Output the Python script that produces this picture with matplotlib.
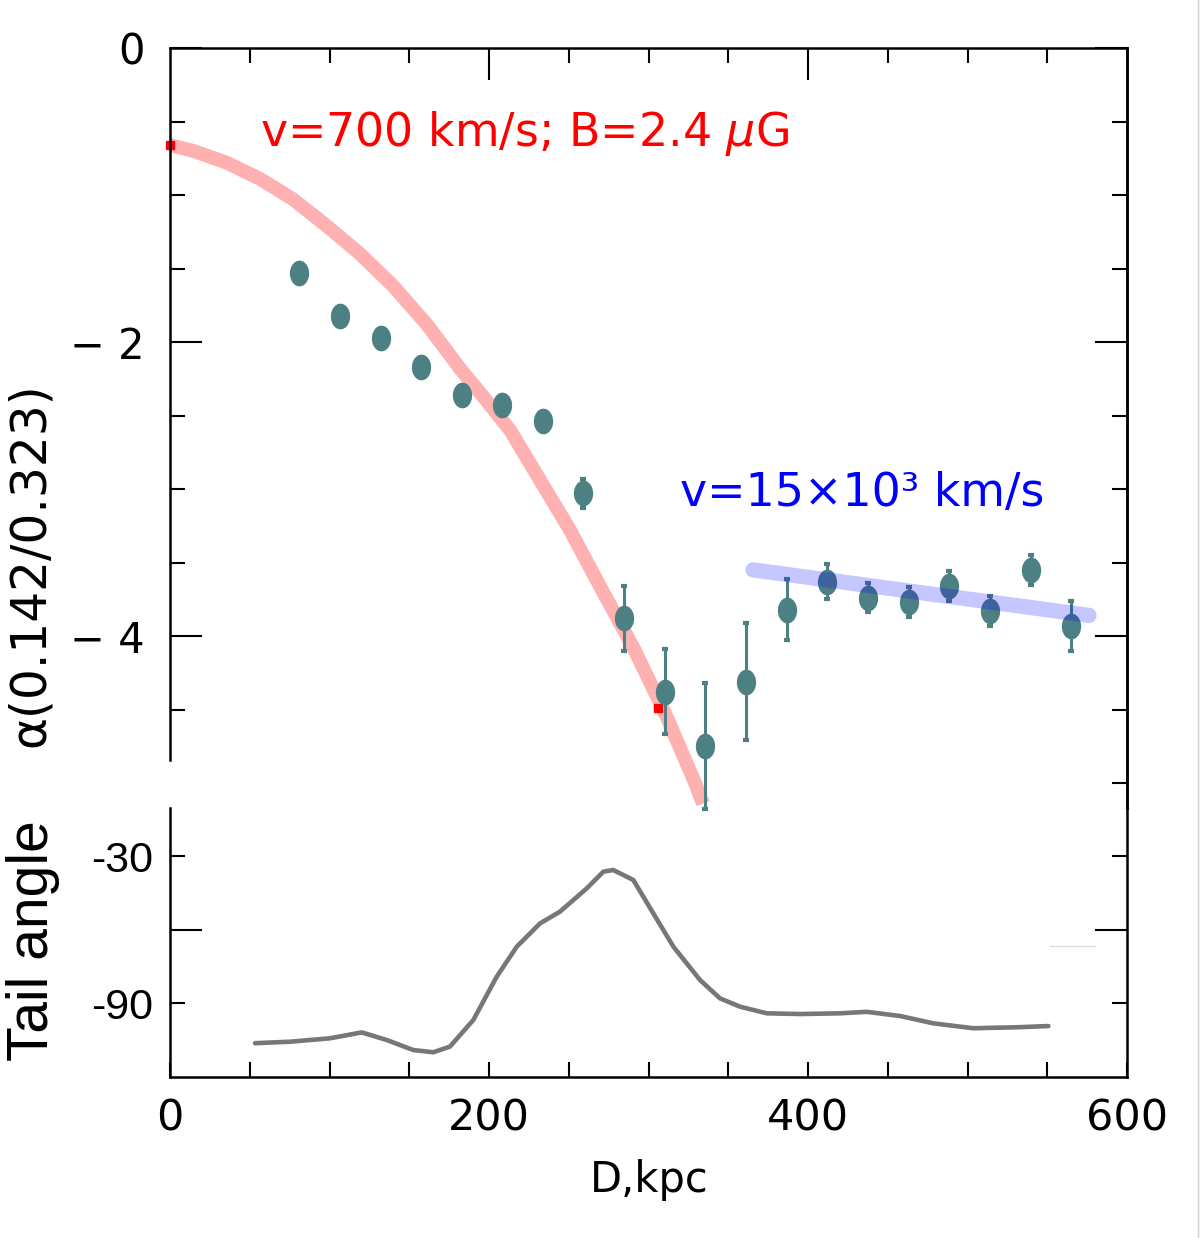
import numpy as np
import matplotlib
matplotlib.use('Agg')
import matplotlib.pyplot as plt
from matplotlib.path import Path

# spectral index alpha(0.142/0.323) along the tail
dist_kpc  = [80.9, 106.6, 132.3, 157.4, 183.1, 208.2, 234.0, 259.1, 284.8, 310.3,
             335.6, 361.3, 386.6, 412.1, 437.4, 463.1, 488.6, 514.1, 539.6, 564.7]
alpha_val = [-1.53, -1.82, -1.97, -2.17, -2.36, -2.43, -2.54, -3.03, -3.88, -4.38,
             -4.75, -4.31, -3.82, -3.63, -3.74, -3.77, -3.66, -3.83, -3.55, -3.93]
alpha_err = [0.0, 0.0, 0.0, 0.0, 0.0, 0.0, 0.0, 0.10, 0.22, 0.29,
             0.43, 0.40, 0.21, 0.12, 0.10, 0.10, 0.10, 0.10, 0.10, 0.17]

# ageing model, v=700 km/s, B=2.4 uG
model_x = [0.0, 14.6, 35.5, 56.4, 77.3, 98.2, 119.1, 140.0, 161.0, 181.8,
           197.0, 213.2, 232.0, 250.8, 267.5, 291.5, 311.4, 329.2, 334.2]
model_y = [-0.66, -0.70, -0.78, -0.89, -1.03, -1.21, -1.40, -1.62, -1.88, -2.18,
           -2.38, -2.60, -2.94, -3.28, -3.62, -4.10, -4.55, -5.00, -5.14]

# fast flow, v=15x10^3 km/s
fast_x = [365.5, 576.2]
fast_y = [-3.55, -3.86]

# stray red marks from the original figure
red_x = [0.0, 306.0]
red_y = [-0.66, -4.49]

# tail angle profile
tail_x = [53.3, 75.2, 100.3, 120.2, 135.9, 152.5, 165.1, 175.5, 190.2, 204.8,
          217.4, 232.0, 244.5, 261.3, 271.7, 277.9, 290.5, 303.0, 315.6, 332.3,
          344.8, 357.4, 374.1, 395.0, 420.1, 436.8, 457.7, 478.6, 503.6, 530.8, 550.7]
tail_y = [-106.4, -105.8, -104.4, -102.0, -105.1, -109.2, -110.1, -107.8, -96.9, -79.3,
          -67.0, -57.5, -52.7, -43.2, -36.4, -35.7, -39.8, -53.4, -67.0, -80.6,
          -88.1, -91.5, -94.2, -94.5, -94.2, -93.6, -95.3, -98.3, -100.3, -99.9, -99.4]

TEAL = '#4d8083'
THIN = 'DejaVu Sans'

t = np.linspace(0, 2 * np.pi, 64)
ellipse = Path(np.column_stack([0.75 * np.cos(t), np.sin(t)]), closed=True)

fig = plt.figure(figsize=(12, 12.38), dpi=100)
ax  = fig.add_axes([170 / 1200, 1 - 808 / 1238, 957 / 1200, 760 / 1238])
ax2 = fig.add_axes([170 / 1200, 1 - 1077 / 1238, 957 / 1200, 269 / 1238])
for a in (ax, ax2):
    a.patch.set_visible(False)
    for s in a.spines.values():
        s.set_linewidth(1.8)

# ---- top panel
ax.plot(model_x, model_y, color='#ffb0b0', lw=10, solid_capstyle='butt',
        solid_joinstyle='round', zorder=2)
ax.plot(red_x, red_y, ls='none', marker='s', ms=5.5, color='red', zorder=2, clip_on=False)
ax.errorbar(dist_kpc, alpha_val, yerr=alpha_err, fmt='none', ecolor=TEAL,
            elinewidth=2.2, capsize=2.5, capthick=3, zorder=3, clip_on=False)
ax.plot(dist_kpc, alpha_val, ls='none', marker=ellipse, ms=18.5, color=TEAL,
        mec='none', zorder=4)
ax.plot(fast_x, fast_y, color='blue', alpha=0.22, lw=11, solid_capstyle='round', zorder=5)

ax.text(56.4, -0.58, 'v=700 km/s; B=2.4 $\\mu$G', color='red', fontsize=33,
        family=THIN, va='center', ha='left')
ax.text(319.7, -3.03, 'v=15×10³ km/s', color='blue', fontsize=33,
        family=THIN, va='center', ha='left')

ax.set_xlim(0, 600)
ax.set_ylim(-5.17, 0)
ax.spines['bottom'].set_visible(False)
ax.spines['left'].set_bounds(-4.844, 0)

ax.set_xticks([200, 400])
ax.set_xticks([50, 100, 150, 250, 300, 350, 450, 500, 550], minor=True)
ax.tick_params(axis='x', which='both', direction='in', top=True, bottom=False,
               labelbottom=False, labeltop=False, width=1.5)
ax.tick_params(axis='x', which='major', length=23)
ax.tick_params(axis='x', which='minor', length=10.8)

ax.set_yticks([0, -2, -4], labels=['0', '− 2', '− 4'])
ax.set_yticks([-0.5, -1, -1.5, -2.5, -3, -3.5, -4.5], minor=True)
ax.tick_params(axis='y', which='both', direction='in', left=True, right=False, width=1.5,
               labelsize=30, pad=18)
ax.tick_params(axis='y', which='major', length=23)
ax.tick_params(axis='y', which='minor', length=10.8)
for lab in ax.get_yticklabels():
    lab.set_family(THIN)

sec = ax.secondary_yaxis('right')
sec.spines['right'].set_linewidth(1.8)
sec.set_yticks([0, -2, -4], labels=['', '', ''])
sec.set_yticks([-0.5, -1, -1.5, -2.5, -3, -3.5, -4.5, -5], minor=True)
sec.tick_params(axis='y', which='both', direction='in', width=1.5, labelright=False)
sec.tick_params(axis='y', which='major', length=23)
sec.tick_params(axis='y', which='minor', length=10.8)

# ---- bottom panel
ax2.plot(tail_x, tail_y, color='#777777', lw=3.3, solid_joinstyle='round',
         solid_capstyle='round')
ax2.plot([551.7, 579.9], [-66.7, -66.7], color='#dddddd', lw=1)
ax2.set_xlim(0, 600)
ax2.set_ylim(-120.2, -10.4)
ax2.spines['top'].set_visible(False)

ax2.set_xticks([0, 200, 400, 600], labels=['0', '200', '400', '600'])
ax2.set_xticks([50, 100, 150, 250, 300, 350, 450, 500, 550], minor=True)
ax2.tick_params(axis='x', which='both', direction='in', length=10.8, width=1.5,
                top=False, labelsize=31, pad=15)
for lab in ax2.get_xticklabels():
    lab.set_family(THIN)

ax2.set_yticks([-30, -90], labels=['-30', '-90'])
ax2.set_yticks([-60], minor=True)
ax2.tick_params(axis='y', which='both', direction='in', left=True, right=True, width=1.5,
                labelsize=31, pad=12)
ax2.tick_params(axis='y', which='major', length=10.8)
ax2.tick_params(axis='y', which='minor', length=23)
for lab in ax2.get_yticklabels():
    lab.set_family('Liberation Sans')

# ---- axis titles
fig.text(30 / 1200, 1 - 565 / 1238, 'α(0.142/0.323)', rotation=90, fontsize=35,
         family=THIN, ha='center', va='center')
fig.text(33 / 1200, 1 - 941 / 1238, 'Tail angle', rotation=90, fontsize=41,
         family='Liberation Sans', ha='center', va='center')
fig.text(649 / 1200, 1 - 1180 / 1238, 'D,kpc', fontsize=30, family=THIN,
         ha='center', va='center')

fig.add_artist(plt.Line2D([1198 / 1200, 1198 / 1200], [0, 1], color='#d0d0d0', lw=1))

fig.savefig('out.png', dpi=100)
